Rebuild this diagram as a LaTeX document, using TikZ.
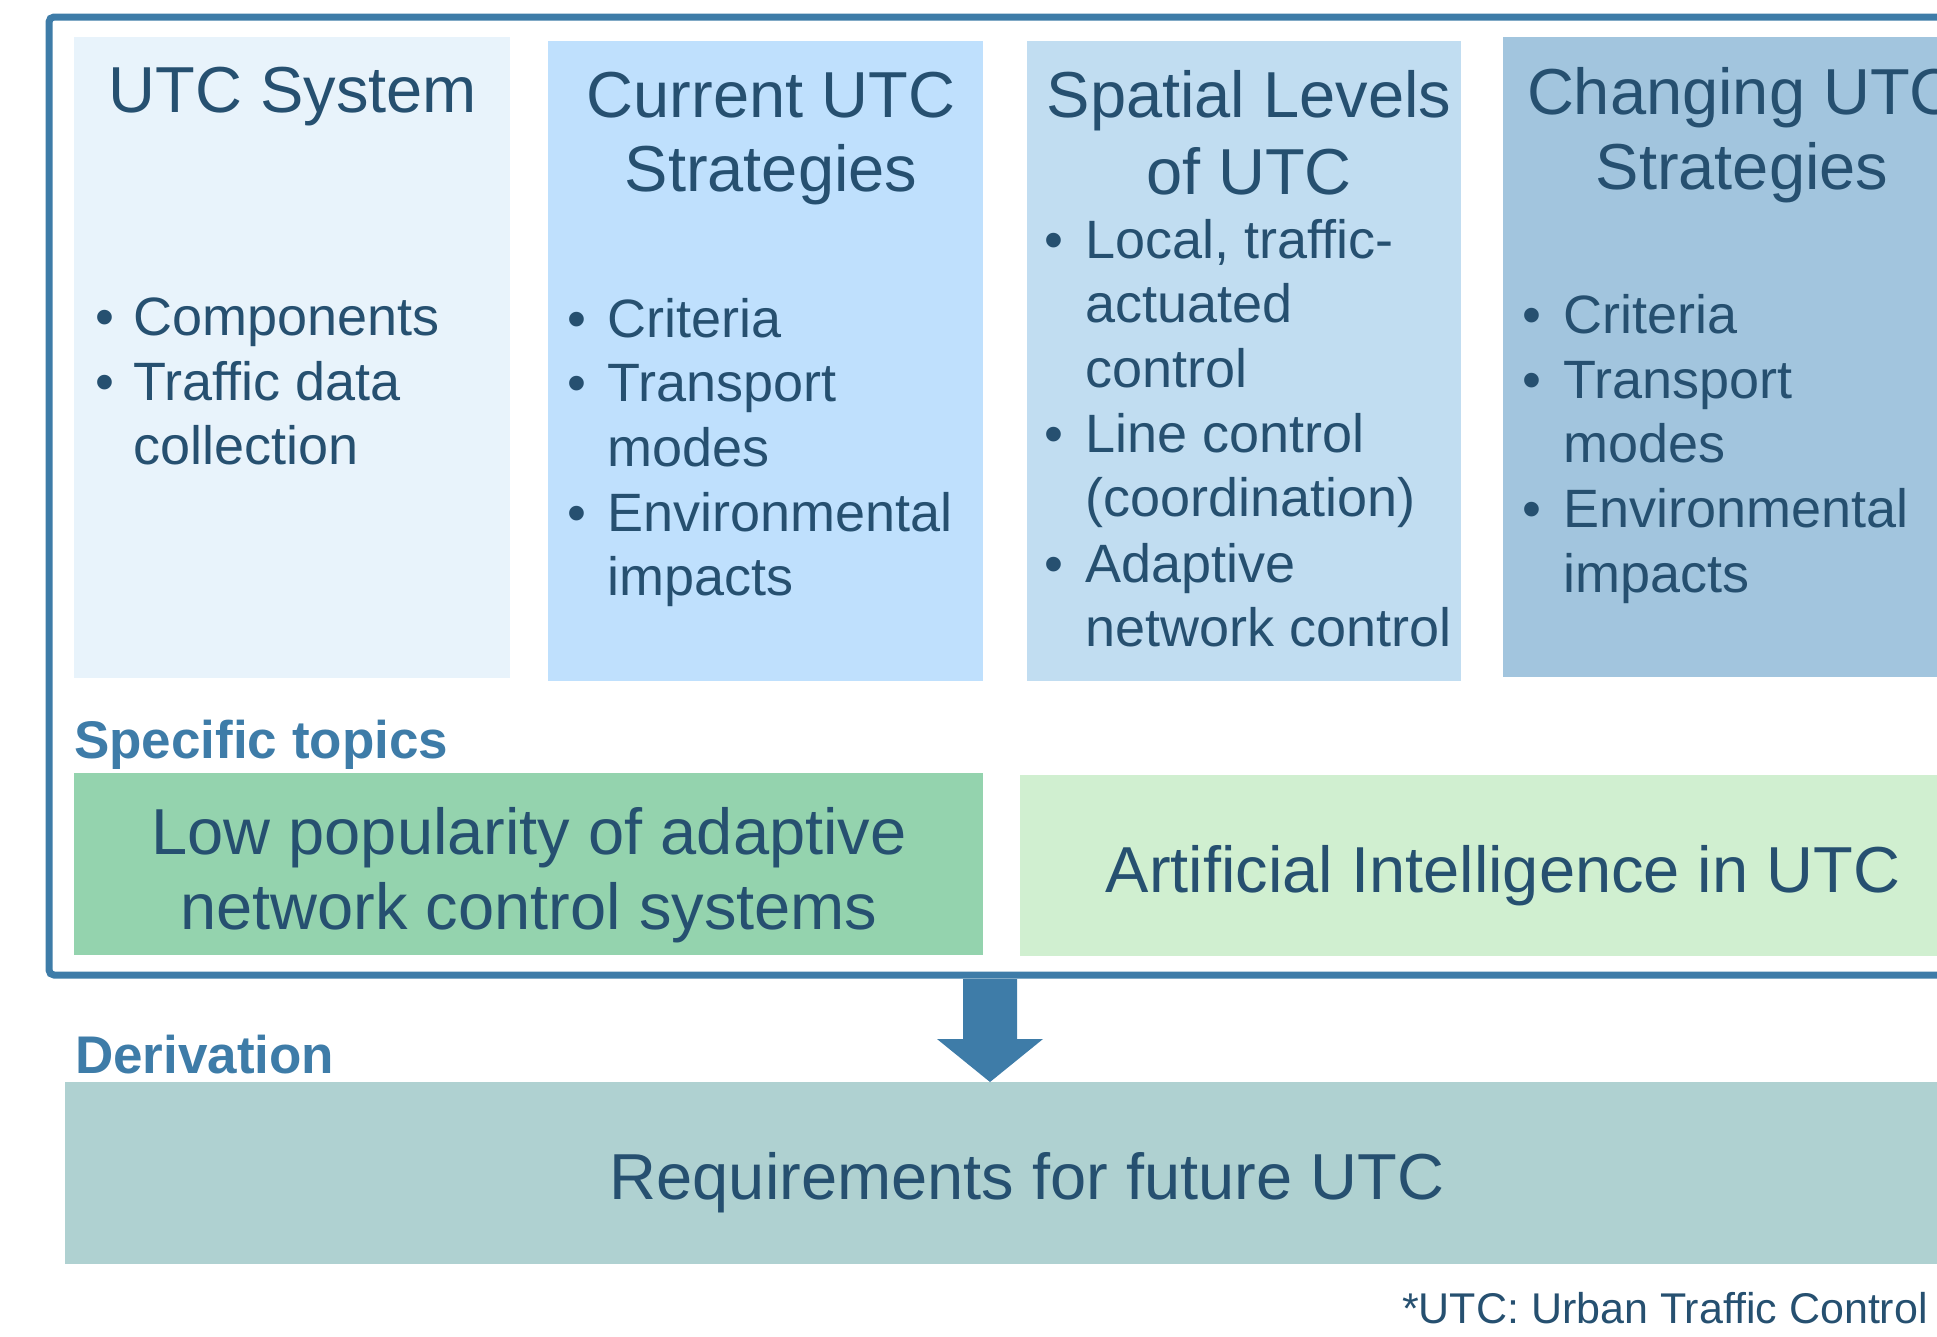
\documentclass[tikz,border=0pt]{standalone}
\usepackage{fontspec}
\setmainfont{Liberation Sans}
\usetikzlibrary{calc}
\definecolor{framecol}{RGB}{62,124,168}
\definecolor{ink}{RGB}{38,80,112}
\definecolor{sysfill}{RGB}{232,243,251}
\definecolor{curfill}{RGB}{191,224,253}
\definecolor{spafill}{RGB}{193,221,241}
\definecolor{chgfill}{RGB}{162,197,222}
\definecolor{lowfill}{RGB}{148,211,174}
\definecolor{aifill}{RGB}{208,239,208}
\definecolor{reqfill}{RGB}{175,209,209}
\begin{document}
\begin{tikzpicture}[x=1pt,y=-1pt,
  panel/.style={draw=none, inner sep=0pt, outer sep=0pt, anchor=north west},
  title/.style={text=ink, font=\fontsize{65}{75}\selectfont, inner sep=0pt, anchor=base},
  item/.style={text=ink, font=\fontsize{54}{65}\selectfont, inner sep=0pt, anchor=base west},
  label/.style={text=framecol, font=\fontsize{53}{60}\selectfont\bfseries, inner sep=0pt, anchor=base west}]

\useasboundingbox (0,0) rectangle (1937,1336);
\clip (0,0) rectangle (1937,1336);

% outer frame around the four columns and the specific topics
\node[draw=framecol, line width=7pt, rounded corners=5pt, inner sep=0pt, outer sep=0pt,
      minimum width=2000pt, minimum height=958pt, anchor=north west] (frame) at (49,17) {};

% column panels
\node[panel, fill=sysfill, minimum width=436pt, minimum height=641pt] (sys) at (74,37) {};
\node[panel, fill=curfill, minimum width=435pt, minimum height=640pt] (cur) at (548,41) {};
\node[panel, fill=spafill, minimum width=434pt, minimum height=640pt] (spa) at (1027,41) {};
\node[panel, fill=chgfill, minimum width=500pt, minimum height=640pt] (chg) at (1503,37) {};

% UTC System
\node[title] (sysT) at (293,112) {UTC System};
\node[item] (sysD1) at (95,335) {•};
\node[item] (sysL1) at (133,335) {Components};
\node[item] (sysD2) at (95,400) {•};
\node[item] (sysL2) at (133,400) {Traffic data};
\node[item] (sysL3) at (133,464) {collection};

% Current UTC Strategies
\node[title] (curT1) at (771,117) {Current UTC};
\node[title] (curT2) at (771,191) {Strategies};
\node[item] (curD1) at (567,337) {•};
\node[item] (curL1) at (607,337) {Criteria};
\node[item] (curD2) at (567,401) {•};
\node[item] (curL2) at (607,401) {Transport};
\node[item] (curL3) at (607,466) {modes};
\node[item] (curD4) at (567,531) {•};
\node[item] (curL4) at (607,531) {Environmental};
\node[item] (curL5) at (607,595) {impacts};

% Spatial Levels of UTC
\node[title] (spaT1) at (1249,117) {Spatial Levels};
\node[title] (spaT2) at (1249,194) {of UTC};
\node[item] (spaD1) at (1044,258) {•};
\node[item] (spaL1) at (1085,258) {Local, traffic-};
\node[item] (spaL2) at (1085,322) {actuated};
\node[item] (spaL3) at (1085,387) {control};
\node[item] (spaD4) at (1044,452) {•};
\node[item] (spaL4) at (1085,452) {Line control};
\node[item] (spaL5) at (1085,516) {(coordination)};
\node[item] (spaD6) at (1044,582) {•};
\node[item] (spaL6) at (1085,582) {Adaptive};
\node[item] (spaL7) at (1085,646) {network control};

% Changing UTC Strategies
\node[title] (chgT1) at (1742,114) {Changing UTC};
\node[title] (chgT2) at (1742,189) {Strategies};
\node[item] (chgD1) at (1522,333) {•};
\node[item] (chgL1) at (1563,333) {Criteria};
\node[item] (chgD2) at (1522,398) {•};
\node[item] (chgL2) at (1563,398) {Transport};
\node[item] (chgL3) at (1563,462) {modes};
\node[item] (chgD4) at (1522,527) {•};
\node[item] (chgL4) at (1563,527) {Environmental};
\node[item] (chgL5) at (1563,592) {impacts};

% specific topics
\node[label] (specL) at (74,758) {Specific topics};
\node[panel, fill=lowfill, minimum width=909pt, minimum height=182pt] (low) at (74,773) {};
\node[panel, fill=aifill, minimum width=1000pt, minimum height=181pt] (ai) at (1020,775) {};
\node[title] (lowT1) at (529,854) {Low popularity of adaptive};
\node[title] (lowT2) at (529,929) {network control systems};
\node[title] (aiT) at (1503,892) {Artificial Intelligence in UTC};

% derivation
\node[label] (derL) at (75,1073) {Derivation};
\node[panel, fill=reqfill, minimum width=1950pt, minimum height=182pt] (req) at (65,1082) {};
\node[title] (reqT) at (1027,1199) {Requirements for future UTC};

% block arrow from the frame down to the requirements
\coordinate (arrtop) at (990,979);
\coordinate (arrtip) at (req.north -| arrtop);
\fill[framecol] ($(arrtop)+(-27,0)$) -- ($(arrtop)+(27,0)$) -- ($(arrtip)+(27,-43)$)
  -- ($(arrtip)+(53,-43)$) -- (arrtip) -- ($(arrtip)+(-53,-43)$) -- ($(arrtip)+(-27,-43)$) -- cycle;

% footnote
\node[text=ink, font=\fontsize{43}{50}\selectfont, inner sep=0pt, anchor=base east] (note) at (1928,1323) {*UTC: Urban Traffic Control};
\end{tikzpicture}
\end{document}
